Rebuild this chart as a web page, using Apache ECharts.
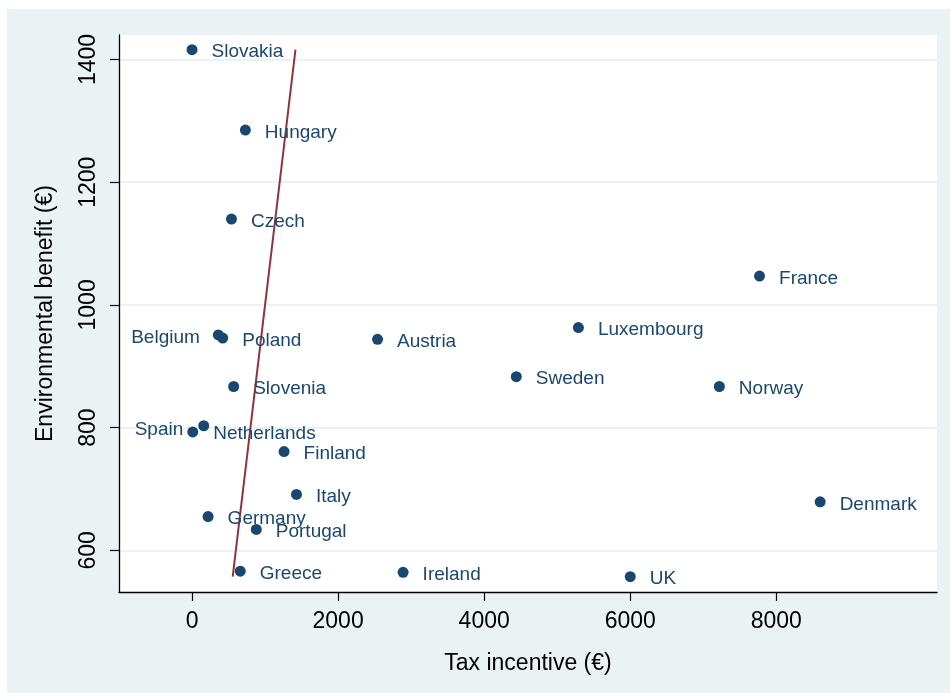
<!DOCTYPE html>
<html>
<head>
<meta charset="utf-8">
<script src="https://cdn.jsdelivr.net/npm/echarts@6/dist/echarts.min.js"></script>
<style>
  html, body { margin: 0; padding: 0; background: #ffffff; }
  #chart { width: 950px; height: 697px; }
</style>
</head>
<body>
<div id="chart"></div>
<script>
// Country-level estimates: tax incentive vs environmental benefit (EUR)
const countries = ['Slovakia', 'Hungary', 'Czech', 'France', 'Luxembourg', 'Belgium', 'Poland',
  'Austria', 'Slovenia', 'Sweden', 'Norway', 'Spain', 'Netherlands', 'Finland', 'Italy',
  'Germany', 'Portugal', 'Greece', 'Ireland', 'Denmark', 'UK'];
const taxIncentive = [0, 730, 540, 7770, 5290, 360, 420, 2540, 570, 4440, 7220, 10, 160, 1260, 1430,
  220, 880, 660, 2890, 8600, 6000];
const envBenefit = [1416, 1285, 1140, 1047, 963, 951, 946, 944, 867, 883, 867, 793, 803, 761, 691,
  655, 634, 566, 564, 679, 557];

// Reference line where incentive equals benefit, spanning the benefit range
const parityX = [557, 1416];
const parityY = [557, 1416];

const xTicks = [0, 2000, 4000, 6000, 8000];
const yTicks = [600, 800, 1000, 1200, 1400];

const NAVY = '#1a476f';
const FONT = '"Liberation Sans", Arial, sans-serif';
const SYMBOL = 11;

// label anchor relative to the marker box (default: to the right, at 3 o'clock)
const labelPlacement = {
  Belgium: { position: [-13, 8], align: 'right' },
  Spain: { position: [-4, 3], align: 'right' },
  Netherlands: { position: [15, 14], align: 'left' }
};

const points = countries.map((name, i) => {
  const p = { name: name, value: [taxIncentive[i], envBenefit[i]] };
  if (labelPlacement[name]) p.label = labelPlacement[name];
  return p;
});

const plain = v => String(v);

const chart = echarts.init(document.getElementById('chart'), null, { renderer: 'canvas' });

chart.setOption({
  animation: false,
  backgroundColor: '#ffffff',
  graphic: [{
    type: 'rect',
    z: -10,
    silent: true,
    shape: { x: 7, y: 9, width: 943, height: 684 },
    style: { fill: '#eaf2f3' }
  }],
  grid: {
    left: 119, right: 13, top: 35, bottom: 105,
    show: true, backgroundColor: '#ffffff', borderWidth: 0
  },
  xAxis: {
    type: 'value',
    min: -1000, max: 10200,
    name: 'Tax incentive (€)',
    nameLocation: 'middle',
    nameGap: 60,
    nameTextStyle: { fontFamily: FONT, fontSize: 23, color: '#000000' },
    axisLine: { show: true, onZero: false, lineStyle: { color: '#000000', width: 1.3 } },
    axisTick: { show: true, length: 9, customValues: xTicks, lineStyle: { color: '#000000', width: 1.2 } },
    axisLabel: { customValues: xTicks, formatter: plain, margin: 18, fontFamily: FONT, fontSize: 23, color: '#000000' },
    splitLine: { show: false }
  },
  yAxis: {
    type: 'value',
    min: 532, max: 1440,
    name: 'Environmental benefit (€)',
    nameLocation: 'middle',
    nameRotate: 90,
    nameGap: 62,
    nameTextStyle: { fontFamily: FONT, fontSize: 23, color: '#000000' },
    axisLine: { show: true, onZero: false, lineStyle: { color: '#000000', width: 1.3 } },
    axisTick: { show: true, length: 9, customValues: yTicks, lineStyle: { color: '#000000', width: 1.2 } },
    axisLabel: { customValues: yTicks, formatter: plain, rotate: 90, margin: 19, fontFamily: FONT, fontSize: 23, color: '#000000' },
    splitLine: { show: true, lineStyle: { color: '#e6eef0', width: 1.5 } }
  },
  series: [
    {
      type: 'line',
      data: parityX.map((x, i) => [x, parityY[i]]),
      symbol: 'none',
      lineStyle: { color: '#90353b', width: 2 },
      z: 3,
      silent: true
    },
    {
      type: 'scatter',
      data: points,
      symbol: 'circle',
      symbolSize: SYMBOL,
      itemStyle: { color: NAVY, opacity: 1 },
      z: 4,
      label: {
        show: true,
        position: [SYMBOL + 14, 8],
        align: 'left',
        verticalAlign: 'middle',
        formatter: '{b}',
        fontFamily: FONT,
        fontSize: 19,
        color: NAVY
      },
      labelLayout: { hideOverlap: false }
    }
  ]
});
</script>
</body>
</html>
